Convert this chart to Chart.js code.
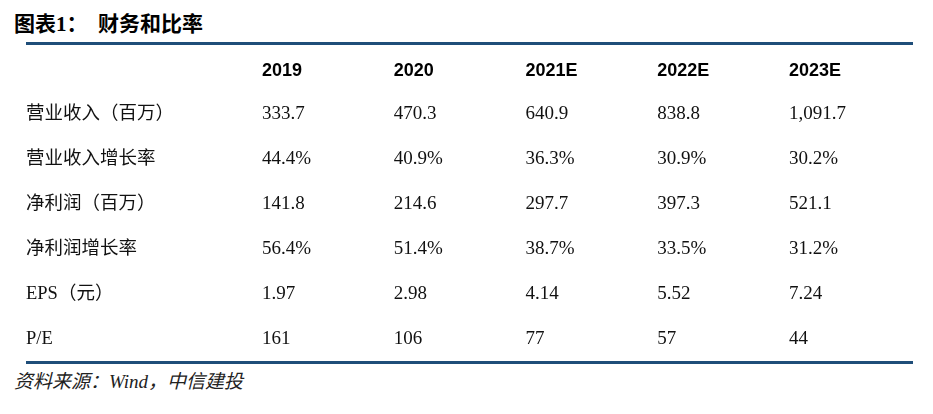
<!DOCTYPE html>
<html>
<head>
<meta charset="utf-8">
<script src="https://cdn.jsdelivr.net/npm/chart.js@4/dist/chart.umd.min.js"></script>
<style>
  body { margin: 0; background: #fff; width: 933px; height: 414px; position: relative; overflow: hidden; }
  #title { position: absolute; left: 14px; top: 11px; font: bold 21px/26px "Liberation Serif", "Noto Sans CJK SC"; color: #000; white-space: pre; }
  .rule { position: absolute; left: 26px; width: 887px; background: #1f4e79; }
  #box { position: absolute; left: 26px; top: 46px; width: 887px; height: 316px; }
  #source { position: absolute; left: 14px; top: 371px; font: italic 19px/22px "Liberation Serif", "Noto Sans CJK SC"; color: #222; }
</style>
</head>
<body>
<div id="title">图表1：  财务和比率</div>
<div class="rule" style="top:42px;height:3px"></div>
<div id="box"><canvas id="tableChart" width="887" height="316"></canvas></div>
<div class="rule" style="top:361px;height:3px"></div>
<div id="source">资料来源：Wind，中信建投</div>

<script>
// 列（年份）与行（指标）
const years = ['2019', '2020', '2021E', '2022E', '2023E'];
const rows = ['营业收入（百万）', '营业收入增长率', '净利润（百万）', '净利润增长率', 'EPS（元）', 'P/E'];

// 各行数值
const revenue = [333.7, 470.3, 640.9, 838.8, 1091.7];
const revenueGrowth = [44.4, 40.9, 36.3, 30.9, 30.2];
const netProfit = [141.8, 214.6, 297.7, 397.3, 521.1];
const profitGrowth = [56.4, 51.4, 38.7, 33.5, 31.2];
const eps = [1.97, 2.98, 4.14, 5.52, 7.24];
const pe = [161, 106, 77, 57, 44];

const fmt1 = v => v.toLocaleString('en-US', { minimumFractionDigits: 1, maximumFractionDigits: 1 });
const pct = v => v.toFixed(1) + '%';
const fmt2 = v => v.toFixed(2);
const int = v => String(v);

const series = [
    [revenue, fmt1],
    [revenueGrowth, pct],
    [netProfit, fmt1],
    [profitGrowth, pct],
    [eps, fmt2],
    [pe, int]
];

const datasets = series.map(([values, f], r) => ({
    label: rows[r],
    data: values.map((v, i) => ({ x: years[i], y: rows[r], text: f(v) })),
    showLine: false,
    pointRadius: 0
}));

// 在每个点的位置写出单元格文字
const cellText = {
    id: 'cellText',
    afterDatasetsDraw(chart) {
        const ctx = chart.ctx;
        ctx.save();
        ctx.font = '19px "Liberation Serif", "Noto Sans CJK SC"';
        ctx.fillStyle = '#111';
        ctx.textAlign = 'left';
        ctx.textBaseline = 'middle';
        chart.data.datasets.forEach((ds, d) => {
            chart.getDatasetMeta(d).data.forEach((pt, i) => {
                ctx.fillText(ds.data[i].text, pt.x, pt.y);
            });
        });
        ctx.restore();
    }
};

new Chart(document.getElementById('tableChart').getContext('2d'), {
    type: 'line',
    data: { labels: years, datasets: datasets },
    plugins: [cellText],
    options: {
        responsive: false,
        animation: false,
        events: [],
        layout: { padding: { left: 0, right: 124, top: 0, bottom: 0 } },
        plugins: { legend: { display: false }, tooltip: { enabled: false } },
        scales: {
            x: {
                type: 'category',
                labels: years,
                position: 'top',
                offset: false,
                grid: { display: false },
                border: { display: false },
                afterFit: s => { s.height = 46; },
                ticks: {
                    align: 'start',
                    autoSkip: false,
                    maxRotation: 0,
                    padding: 2,
                    color: '#000',
                    font: { family: '"Liberation Sans", Arial', size: 18, weight: 'bold' }
                }
            },
            y: {
                type: 'category',
                labels: rows,
                offset: true,
                grid: { display: false },
                border: { display: false },
                afterFit: s => { s.width = 236; s.paddingTop = 0; s.paddingBottom = 0; },
                ticks: {
                    crossAlign: 'far',
                    autoSkip: false,
                    color: '#111',
                    font: { family: '"Liberation Serif", "Noto Sans CJK SC"', size: 18.5 }
                }
            }
        }
    }
});
</script>
</body>
</html>
